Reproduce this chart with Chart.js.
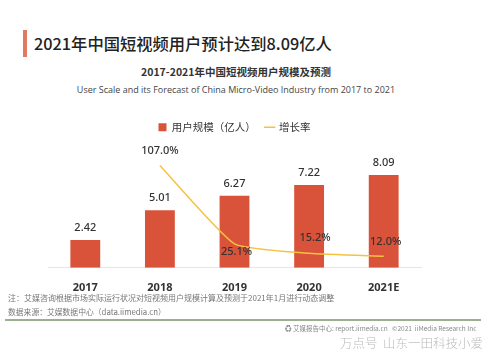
<!DOCTYPE html>
<html><head><meta charset="utf-8">
<script src="https://cdn.jsdelivr.net/npm/chart.js@4/dist/chart.umd.min.js"></script>
<style>
html,body{margin:0;padding:0;background:#fff;}
body{width:499px;height:353px;position:relative;overflow:hidden;font-family:"Noto Sans CJK SC","Noto Sans",sans-serif;}
#c{position:absolute;left:0;top:0;}
.t{position:absolute;white-space:nowrap;}
</style></head>
<body>
<div style="position:absolute;left:23px;top:30px;width:4px;height:27px;background:#e27a62;"></div>
<div class="t" style="left:34px;top:31px;font-size:16.3px;font-weight:500;color:#222;">2021年中国短视频用户预计达到8.09亿人</div>
<div class="t" style="left:0;width:472px;text-align:center;top:64px;font-size:10.5px;font-weight:700;color:#333;">2017-2021年中国短视频用户规模及预测</div>
<div class="t" style="left:0;width:472px;text-align:center;top:83px;font-size:9px;color:#444;font-family:'Open Sans','Noto Sans',sans-serif;">User Scale and its Forecast of China Micro-Video Industry from 2017 to 2021</div>
<canvas id="c" width="499" height="353"></canvas>
<div class="t" style="left:8px;top:292px;font-size:8px;color:#777;">注：艾媒咨询根据市场实际运行状况对短视频用户规模计算及预测于2021年1月进行动态调整</div>
<div class="t" style="left:8px;top:306px;font-size:7.8px;color:#777;">数据来源：艾媒数据中心（data.iimedia.cn）</div>
<div style="position:absolute;left:5px;top:319px;width:476px;height:2px;background:#9bb08c;"></div>
<div class="t" style="left:285px;top:323px;font-size:6.5px;color:#888;">♻ 艾媒报告中心: report.iimedia.cn&nbsp;&nbsp;&nbsp;©2021&nbsp;&nbsp;iiMedia Research Inc</div>
<div class="t" style="left:340px;top:333px;font-size:12.5px;color:#bbb;font-weight:300;">万点号&nbsp;&nbsp;山东一田科技小爱</div>
<script>
const categories = ["2017","2018","2019","2020","2021E"];
const userScale = [2.42, 5.01, 6.27, 7.22, 8.09];
const growthRate = [null, 107.0, 25.1, 15.2, 12.0];
const seriesNames = ["用户规模（亿人）", "增长率"];

const labelPlugin = {
  id: 'valueLabels',
  afterDatasetsDraw(chart) {
    const ctx = chart.ctx;
    ctx.save();
    ctx.textAlign = 'center';
    ctx.textBaseline = 'middle';
    ctx.fillStyle = '#333';
    ctx.font = '500 11px "Noto Sans","Noto Sans CJK SC",sans-serif';
    const m0 = chart.getDatasetMeta(0);
    m0.data.forEach((el, i) => {
      ctx.fillText(userScale[i].toFixed(2), el.x, el.y - 12);
    });
    const m1 = chart.getDatasetMeta(1);
    const offs = [null, [0,-15], [2,8], [6,-15], [2,-14]];
    m1.data.forEach((el, i) => {
      if (growthRate[i] == null) return;
      ctx.fillText(growthRate[i].toFixed(1) + '%', el.x + offs[i][0], el.y + offs[i][1]);
    });
    ctx.restore();
  }
};

new Chart(document.getElementById('c'), {
  data: {
    labels: categories,
    datasets: [
      {type:'bar', label: seriesNames[0], data: userScale, backgroundColor:'#d9533a', yAxisID:'y',
       categoryPercentage:1, barPercentage:0.4, pointStyle:'rect', order:2},
      {type:'line', label: seriesNames[1], data: growthRate, borderColor:'#f5c242', backgroundColor:'#f5c242',
       borderWidth:1.5, pointRadius:0, tension:0.15, yAxisID:'y2', pointStyle:'line', order:1}
    ]
  },
  options: {
    responsive:false, devicePixelRatio:1, animation:false,
    layout:{padding:{left:48, right:78, top:112, bottom:54}},
    plugins:{
      legend:{display:true, position:'top',
        labels:{usePointStyle:true, boxWidth:8, boxHeight:8, padding:10, color:'#333',
          sort:(a,b)=>a.datasetIndex-b.datasetIndex,
          font:{size:10.5, family:'"Noto Sans CJK SC",sans-serif'}}},
      tooltip:{enabled:false}
    },
    scales:{
      x:{grid:{display:false}, border:{display:true, color:'#e6e6e6', width:1},
         ticks:{color:'#333', padding:5, font:{size:11, weight:'bold', family:'"Noto Sans","Noto Sans CJK SC",sans-serif'}}},
      xTop:{type:'category', position:'top', labels:categories, grid:{display:false}, border:{display:false},
         ticks:{display:false}, afterFit:(s)=>{ s.height = 10.5; }},
      y:{display:false, min:0, max:10},
      y2:{display:false, min:0, max:120}
    }
  },
  plugins:[labelPlugin]
});
</script>
</body></html>
